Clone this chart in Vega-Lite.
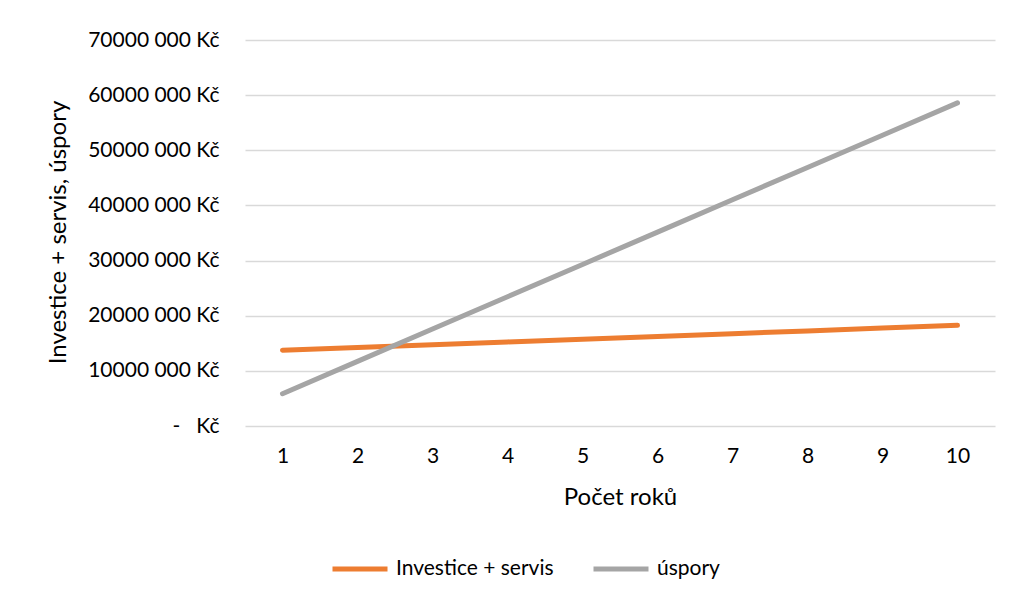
{
  "$schema": "https://vega.github.io/schema/vega-lite/v6.json",
  "autosize": {"type": "none"},
  "padding": {"left": 245, "top": 40, "right": 15, "bottom": 171},
  "width": 750,
  "height": 386,
  "background": "white",
  "config": {
    "view": {"stroke": null},
    "font": "Lato"
  },
  "data": {
    "values": [
      {"rok": 1, "serie": "Investice + servis", "hodnota": 13750000},
      {"rok": 2, "serie": "Investice + servis", "hodnota": 14250000},
      {"rok": 3, "serie": "Investice + servis", "hodnota": 14750000},
      {"rok": 4, "serie": "Investice + servis", "hodnota": 15250000},
      {"rok": 5, "serie": "Investice + servis", "hodnota": 15750000},
      {"rok": 6, "serie": "Investice + servis", "hodnota": 16250000},
      {"rok": 7, "serie": "Investice + servis", "hodnota": 16750000},
      {"rok": 8, "serie": "Investice + servis", "hodnota": 17250000},
      {"rok": 9, "serie": "Investice + servis", "hodnota": 17750000},
      {"rok": 10, "serie": "Investice + servis", "hodnota": 18250000},
      {"rok": 1, "serie": "úspory", "hodnota": 5860000},
      {"rok": 2, "serie": "úspory", "hodnota": 11720000},
      {"rok": 3, "serie": "úspory", "hodnota": 17580000},
      {"rok": 4, "serie": "úspory", "hodnota": 23440000},
      {"rok": 5, "serie": "úspory", "hodnota": 29300000},
      {"rok": 6, "serie": "úspory", "hodnota": 35160000},
      {"rok": 7, "serie": "úspory", "hodnota": 41020000},
      {"rok": 8, "serie": "úspory", "hodnota": 46880000},
      {"rok": 9, "serie": "úspory", "hodnota": 52740000},
      {"rok": 10, "serie": "úspory", "hodnota": 58600000}
    ]
  },
  "mark": {"type": "line", "strokeWidth": 5, "strokeCap": "round", "strokeJoin": "round"},
  "encoding": {
    "x": {
      "field": "rok",
      "type": "ordinal",
      "scale": {"type": "point", "padding": 0.5},
      "axis": {
        "title": "Počet roků",
        "labelAngle": 0,
        "labelFontSize": 21,
        "labelColor": "#000000",
        "labelPadding": 19,
        "ticks": false,
        "domain": false,
        "grid": false,
        "titleFontSize": 24,
        "titleFontWeight": "normal",
        "titleColor": "#000000",
        "titleBaseline": "alphabetic",
        "titleY": 78
      }
    },
    "y": {
      "field": "hodnota",
      "type": "quantitative",
      "scale": {"domain": [0, 70000000], "nice": false},
      "axis": {
        "title": "Investice + servis, úspory",
        "values": [0, 10000000, 20000000, 30000000, 40000000, 50000000, 60000000, 70000000],
        "labelExpr": "datum.value == 0 ? '-\u00a0\u00a0\u00a0Kč' : format(datum.value / 1000, 'd') + ' 000 Kč'",
        "labelFontSize": 21,
        "labelColor": "#000000",
        "labelPadding": 26,
        "ticks": false,
        "domain": false,
        "gridColor": "#D9D9D9",
        "gridWidth": 1.5,
        "titleFontSize": 24,
        "titleFontWeight": "normal",
        "titleColor": "#000000",
        "titleAngle": -90,
        "titleBaseline": "alphabetic",
        "titleX": -180,
        "titleY": 192
      }
    },
    "color": {
      "field": "serie",
      "type": "nominal",
      "scale": {"domain": ["Investice + servis", "úspory"], "range": ["#ED7D31", "#A5A5A5"]},
      "legend": {
        "title": null,
        "orient": "none",
        "direction": "horizontal",
        "legendX": 85,
        "legendY": 499,
        "symbolType": "stroke",
        "symbolSize": 3025,
        "symbolStrokeWidth": 5,
        "labelFontSize": 21,
        "labelColor": "#000000",
        "labelOffset": 6,
        "columnPadding": 29
      }
    }
  }
}
